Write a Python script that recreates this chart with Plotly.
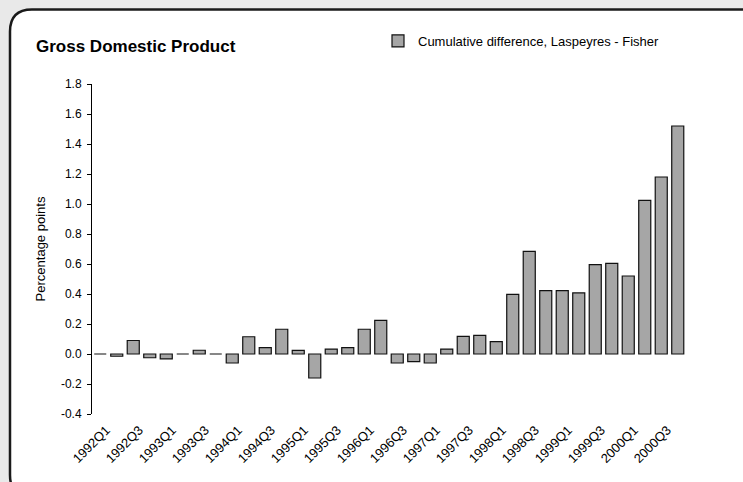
import plotly.graph_objects as go

# Quarterly categories 1992Q1 .. 2000Q4
quarters = [f"{year}Q{q}" for year in range(1992, 2001) for q in range(1, 5)]

# Cumulative difference between Laspeyres and Fisher GDP, percentage points
cum_diff = [
    0.0, -0.015, 0.09, -0.025,
    -0.033, 0.0, 0.025, 0.0,
    -0.06, 0.115, 0.042, 0.165,
    0.024, -0.16, 0.033, 0.042,
    0.165, 0.224, -0.06, -0.051,
    -0.06, 0.033, 0.118, 0.124,
    0.082, 0.398, 0.684, 0.422,
    0.422, 0.407, 0.596, 0.604,
    0.52, 1.024, 1.18, 1.52,
]

y_ticks = [-0.4, -0.2, 0.0, 0.2, 0.4, 0.6, 0.8, 1.0, 1.2, 1.4, 1.6, 1.8]
x_labels = quarters[::2]

W, H = 743, 482
ML, MR, MT, MB = 92, 57, 84, 68
PW, PH = W - ML - MR, H - MT - MB
Y_MIN, Y_MAX = -0.4, 1.8


def px_to_paper(px, py):
    return (px - ML) / PW, (H - MB - py) / PH


def frame_path(left, top, right, bottom, r):
    pts = [
        ("M", [(left, bottom - r)]),
        ("L", [(left, top + r)]),
        ("Q", [(left, top), (left + r, top)]),
        ("L", [(right, top)]),
        ("L", [(right, bottom)]),
        ("L", [(left + r, bottom)]),
        ("Q", [(left, bottom), (left, bottom - r)]),
    ]
    parts = []
    for cmd, coords in pts:
        conv = [px_to_paper(x, y) for x, y in coords]
        parts.append(cmd + " " + " ".join(f"{a:.5f},{b:.5f}" for a, b in conv))
    return " ".join(parts) + " Z"


FONT = "Liberation Sans, Arial, sans-serif"

fig = go.Figure()
fig.add_trace(go.Bar(
    x=quarters,
    y=cum_diff,
    name="Cumulative difference, Laspeyres - Fisher",
    marker=dict(color="#a6a6a6", line=dict(color="#111111", width=1.2)),
    showlegend=True,
))

zero_pos = (0 - Y_MIN) / (Y_MAX - Y_MIN)

fig.update_layout(
    width=W, height=H,
    margin=dict(l=ML, r=MR, t=MT, b=MB),
    paper_bgcolor="#e9e9e9",
    plot_bgcolor="white",
    bargap=0.27,
    font=dict(family=FONT, color="#000000", size=12),
    title=dict(
        text="<b>Gross Domestic Product</b>",
        x=36 / W, xanchor="left",
        y=1 - 46 / H, yanchor="middle",
        font=dict(family=FONT, size=17, color="#000000"),
    ),
    legend=dict(
        x=(378 - ML) / PW, xanchor="left",
        y=1 + (MT - 41) / PH, yanchor="middle",
        bgcolor="rgba(0,0,0,0)",
        font=dict(family=FONT, size=13),
        itemwidth=30,
    ),
    xaxis=dict(
        type="category",
        categoryorder="array", categoryarray=quarters,
        range=[-0.5, len(quarters) - 0.5],
        tickmode="array", tickvals=x_labels, ticktext=x_labels,
        tickangle=-45,
        ticks="", showline=False, showgrid=False, zeroline=False,
        tickfont=dict(size=13),
        ticklabelstandoff=5,
        ticklabelshift=6,
    ),
    xaxis2=dict(
        overlaying="x", anchor="free", position=zero_pos,
        range=[-0.5, len(quarters) - 0.5],
        tickmode="linear", tick0=-0.5, dtick=1,
        ticks="outside", ticklen=4, tickcolor="#000000",
        showline=True, linecolor="#000000", linewidth=1,
        showticklabels=False, showgrid=False, zeroline=False,
    ),
    yaxis=dict(
        range=[Y_MIN, Y_MAX],
        tickmode="array", tickvals=y_ticks,
        ticktext=[f"{v:.1f}" for v in y_ticks],
        ticks="outside", ticklen=4, tickcolor="#000000",
        showline=True, linecolor="#000000", linewidth=1,
        showgrid=False, zeroline=False,
        tickfont=dict(size=12),
        ticklabelstandoff=3,
        title=dict(text="Percentage points", font=dict(size=13), standoff=12),
    ),
    shapes=[
        dict(
            type="path", xref="paper", yref="paper", layer="below",
            path=frame_path(10, 9.5, 775, 497, 22),
            fillcolor="white", line=dict(color="#1a1a1a", width=2.5),
        ),
    ],
)

fig.write_html("out.html")
